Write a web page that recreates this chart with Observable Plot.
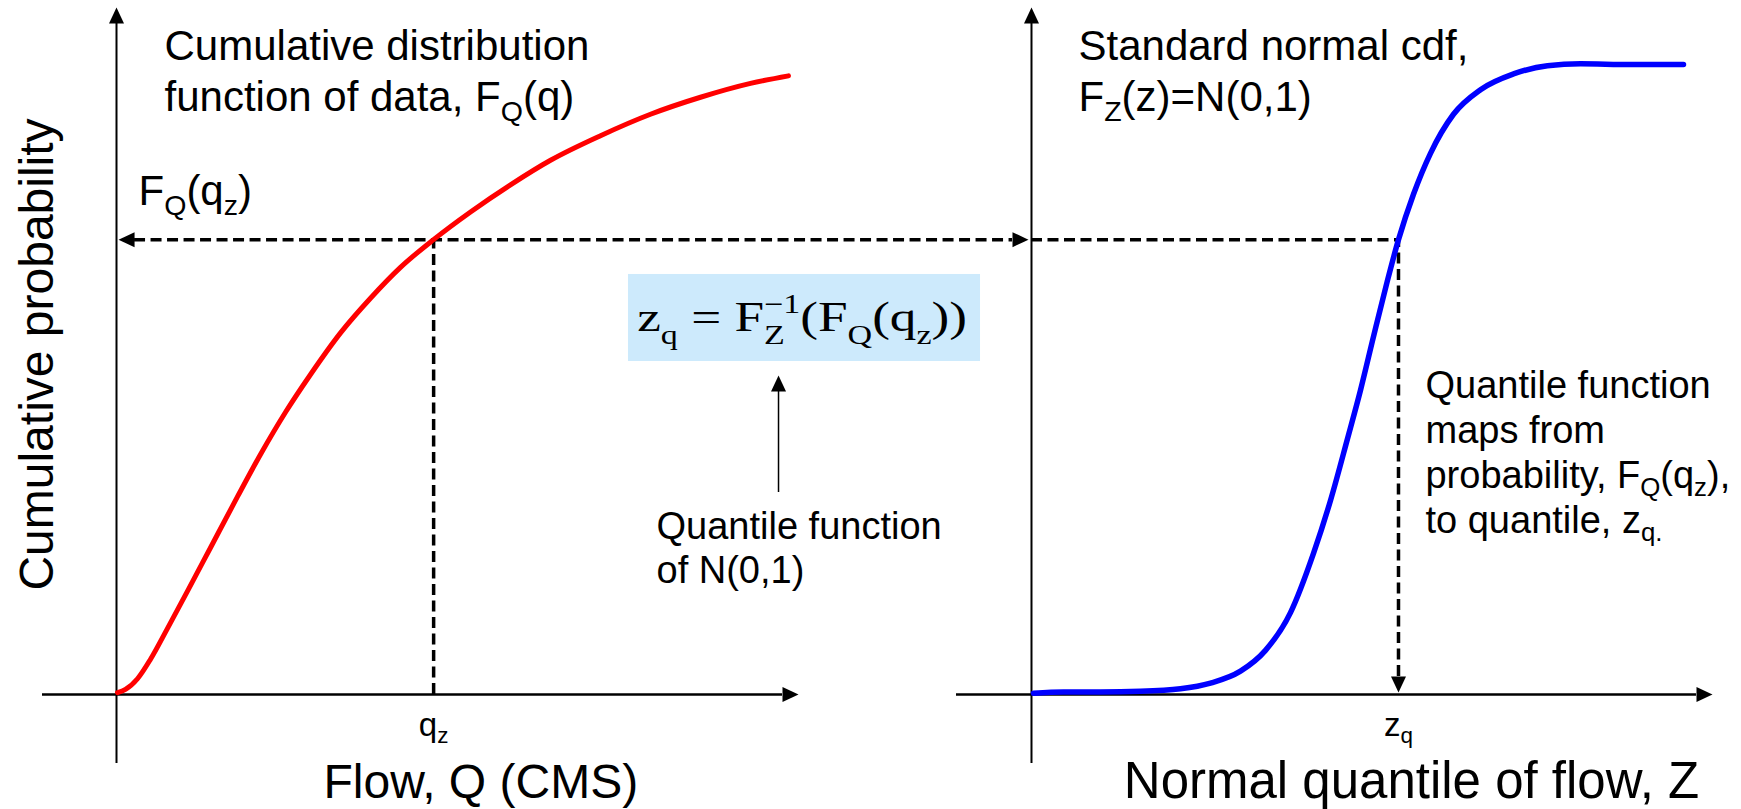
<!DOCTYPE html>
<html><head><meta charset="utf-8">
<script src="https://cdn.jsdelivr.net/npm/d3@7"></script>
<script src="https://cdn.jsdelivr.net/npm/@observablehq/plot@0.6"></script>
<style>
html,body{margin:0;padding:0;background:#fff;}
#chart{width:1741px;height:809px;overflow:hidden;}
</style></head><body><div id="chart"></div>
<script>
// ---------------- data ----------------
// Left panel: CDF of the data, F_Q(q)  (Q in arbitrary flow units)
const redQ = [0.015,0.132,0.308,0.499,0.748,1.041,1.378,1.774,2.111,2.478,2.845,3.285,3.724,4.164,4.648,5.191,5.777,6.364,7.097,7.830,8.563,9.296,9.853];
const redP = [0.003,0.008,0.025,0.056,0.105,0.164,0.233,0.314,0.381,0.448,0.508,0.574,0.629,0.678,0.722,0.766,0.809,0.848,0.887,0.921,0.948,0.970,0.982];
// Right panel: standard normal cdf, F_Z(z)
const blueZ = [-4.0625,-3.6875,-3.225,-2.725,-2.225,-1.85,-1.475,-1.1625,-0.85,-0.5625,-0.35,-0.1375,0.025,0.1875,0.35,0.5,0.6875,0.9,1.1875,1.525,1.9375,2.3625,2.775,3.4,4.0625];
const blueP = [0.002,0.004,0.004,0.005,0.009,0.018,0.037,0.070,0.130,0.224,0.308,0.406,0.483,0.568,0.651,0.722,0.794,0.859,0.921,0.960,0.985,0.998,1.001,1.000,1.000];
// key values
const qz = 4.65;     // flow quantile q_z
const FQqz = 0.722;  // F_Q(q_z)
const zq = 0.5;      // z_q
// texts
const leftTitle = "Cumulative distribution\nfunction of data, F_{Q}(q)";
const leftProbLabel = "F_{Q}(q_{z})";
const rightTitle = "Standard normal cdf,\nF_{Z}(z)=N(0,1)";
const rightNote = "Quantile function\nmaps from\nprobability, F_{Q}(q_{z}),\nto quantile, z_{q.}";
const midNote = "Quantile function\nof N(0,1)";
const formula = "z_{q} = F_{Z}^{\u22121}(F_{Q}(q_{z}))";
const xTickLeft = "q_{z}";
const xTickRight = "z_{q}";
const xTitleLeft = "Flow, Q (CMS)";
const xTitleRight = "Normal quantile of flow, Z";
const yTitle = "Cumulative probability";

// ---------------- layout ----------------
const W = 1741, H = 809;
const PX_Q = 68.2, PX_P = 630;           // pixels per unit
const Z_ORIGIN = 18.211, Z_UNIT = 1.173;  // right panel z placed on the shared x scale
const zx = z => Z_ORIGIN + z * Z_UNIT;
const zAxis = -4.0875;                    // where the right vertical axis stands
const P_TOP = 1.0905, P_BOT = -0.1095;    // vertical axes extent
const AH = 16;                            // arrowhead length (px)
const SANS = "'Liberation Sans', Arial, Helvetica, sans-serif";
const SERIF = "'Liberation Serif', 'Times New Roman', Times, serif";

const tri = dir => ({draw(ctx) {
  const L = AH, w = 7.5;
  ctx.moveTo(0, 0);
  if (dir === "up")    { ctx.lineTo(-w, L); ctx.lineTo(w, L); }
  if (dir === "down")  { ctx.lineTo(-w, -L); ctx.lineTo(w, -L); }
  if (dir === "left")  { ctx.lineTo(L, -w); ctx.lineTo(L, w); }
  if (dir === "right") { ctx.lineTo(-L, -w); ctx.lineTo(-L, w); }
  ctx.closePath();
}});
const head = (pts, dir) => Plot.dot(pts, {x: "x", y: "y", r: 6, symbol: tri(dir), fill: "black", stroke: "none"});

const red = redQ.map((q, i) => ({x: q, y: redP[i]}));
const blue = blueZ.map((z, i) => ({x: zx(z), y: blueP[i]}));
const dash = {stroke: "black", strokeWidth: 3.5, strokeDasharray: "11,5.5"};
const txt = (s, o) => Plot.text([s], {text: d => d, fill: "black", fontFamily: SANS, lineAnchor: "bottom", ...o});

const dQ = AH / PX_Q, dP = AH / PX_P;
const rightAxisX = zx(zAxis);

const svg = Plot.plot({
  width: W, height: H, margin: 0,
  x: {domain: [-116 / PX_Q, (W - 116) / PX_Q], axis: null},
  y: {domain: [-(H - 694) / PX_P, 694 / PX_P], axis: null},
  style: {background: "white", fontFamily: SANS, overflow: "visible"},
  marks: [
    // formula box
    Plot.rect([0], {x1: 7.507, x2: 12.669, y1: 0.5286, y2: 0.6667, fill: "#cdeafc"}),
    // axes
    Plot.ruleX([0, rightAxisX], {y1: P_BOT, y2: P_TOP - dP, stroke: "black", strokeWidth: 2}),
    Plot.ruleY([0], {x1: -1.085, x2: 10.0 - dQ, stroke: "black", strokeWidth: 2.5}),
    Plot.ruleY([0], {x1: zx(-5.025), x2: zx(4.425) - dQ, stroke: "black", strokeWidth: 2.5}),
    head([{x: 0, y: P_TOP}, {x: rightAxisX, y: P_TOP}], "up"),
    head([{x: 10.0, y: 0}, {x: zx(4.425), y: 0}], "right"),
    // dashed guides
    Plot.ruleY([FQqz], {x1: 0.03 + dQ, x2: rightAxisX - 0.044 - dQ, ...dash}),
    Plot.ruleY([FQqz], {x1: rightAxisX, x2: zx(zq), ...dash}),
    Plot.ruleX([qz], {y1: 0, y2: FQqz, ...dash}),
    Plot.ruleX([zx(zq)], {y1: 0.0032 + dP, y2: FQqz, ...dash}),
    head([{x: 0.03, y: FQqz}], "left"),
    head([{x: rightAxisX - 0.044, y: FQqz}], "right"),
    head([{x: zx(zq), y: 0.0032}], "down"),
    // formula pointer
    Plot.ruleX([9.707], {y1: 0.3206, y2: 0.5063 - 15 / PX_P, stroke: "black", strokeWidth: 1.5}),
    head([{x: 9.707, y: 0.5063}], "up"),
    // curves
    Plot.line(red, {x: "x", y: "y", stroke: "#ff0000", strokeWidth: 5, curve: "monotone-x"}),
    Plot.line(blue, {x: "x", y: "y", stroke: "#0000ff", strokeWidth: 5.5, curve: "monotone-x"}),
    // texts
    txt(leftTitle, {x: 0.704, y: 0.9254, textAnchor: "start", fontSize: 42, lineHeight: 1.238}),
    txt(leftProbLabel, {x: 0.3226, y: 0.7762, textAnchor: "start", fontSize: 42}),
    txt(rightTitle, {x: zx(-3.5), y: 0.9254, textAnchor: "start", fontSize: 42, lineHeight: 1.238}),
    txt(rightNote, {x: zx(0.8375), y: 0.2571, textAnchor: "start", fontSize: 38, lineHeight: 1.184}),
    txt(midNote, {x: 7.918, y: 0.1762, textAnchor: "start", fontSize: 38, lineHeight: 1.184}),
    txt(formula, {x: 7.635, y: 0.5762, textAnchor: "start", fontSize: 42, fontFamily: SERIF, fontWeight: "normal"}),
    txt(xTickLeft, {x: qz, y: -0.0651, textAnchor: "middle", fontSize: 33}),
    txt(xTickRight, {x: zx(zq), y: -0.0651, textAnchor: "middle", fontSize: 33}),
    txt(xTitleLeft, {x: 3.035, y: -0.1650, textAnchor: "start", fontSize: 48}),
    txt(xTitleRight, {x: 14.77, y: -0.1650, textAnchor: "start", fontSize: 51}),
    txt(yTitle, {x: -0.924, y: 0.5397, textAnchor: "middle", fontSize: 48, rotate: -90})
  ]
});
document.getElementById("chart").append(svg);

const isSerif = el => getComputedStyle(el).fontFamily.includes("Liberation Serif");

// turn _{..} and ^{..} into real sub/superscript tspans
function richify(root) {
  const NS = "http://www.w3.org/2000/svg";
  root.querySelectorAll("text").forEach(t => {
    const lines = t.querySelectorAll("tspan").length ? [...t.querySelectorAll("tspan")] : [t];
    lines.forEach((el, li) => {
      const s = el.textContent;
      if (!/[_^]\{/.test(s)) return;
      const fs = parseFloat(getComputedStyle(el).fontSize);
      const serif = isSerif(el);
      const subShift = (serif ? 0.3 : 0.22) * fs, supShift = -0.45 * fs;
      const ratio = serif ? 0.64 : 0.68;
      el.textContent = "";
      let shift = 0, lastSub = null;
      const add = (str, kind) => {
        const ts = document.createElementNS(NS, "tspan");
        ts.textContent = str;
        const target = kind === "sub" ? subShift : kind === "sup" ? supShift : 0;
        if (target - shift) ts.setAttribute("dy", target - shift);
        shift = target;
        if (kind !== "normal") ts.setAttribute("font-size", fs * ratio);
        el.appendChild(ts);
        if (kind === "sup" && lastSub) ts.setAttribute("dx", -lastSub.getComputedTextLength());
        lastSub = kind === "sub" ? ts : null;
      };
      const re = /([_^])\{([^}]*)\}/g;
      let i = 0, m;
      while ((m = re.exec(s))) {
        if (m.index > i) add(s.slice(i, m.index), "normal");
        add(m[2], m[1] === "_" ? "sub" : "sup");
        i = re.lastIndex;
      }
      if (i < s.length) add(s.slice(i), "normal");
      // compensate a trailing shift on the next line, if any
      if (shift && li < lines.length - 1) {
        const next = lines[li + 1];
        const d = next.getAttribute("dy") || "0";
        const em = parseFloat(d) * (d.endsWith("em") ? fs : 1);
        next.setAttribute("dy", em - shift);
      }
    });
  });
}
richify(svg);

// the equation in the reference is set wider than its natural width
svg.querySelectorAll("text").forEach(t => {
  if (!isSerif(t)) return;
  const b = t.getBBox();
  const s = 330 / b.width;
  const tr = t.getAttribute("transform") || "";
  t.setAttribute("transform", `${tr} translate(${b.x},0) scale(${s},1) translate(${-b.x},0)`);
});
</script>
</body></html>
